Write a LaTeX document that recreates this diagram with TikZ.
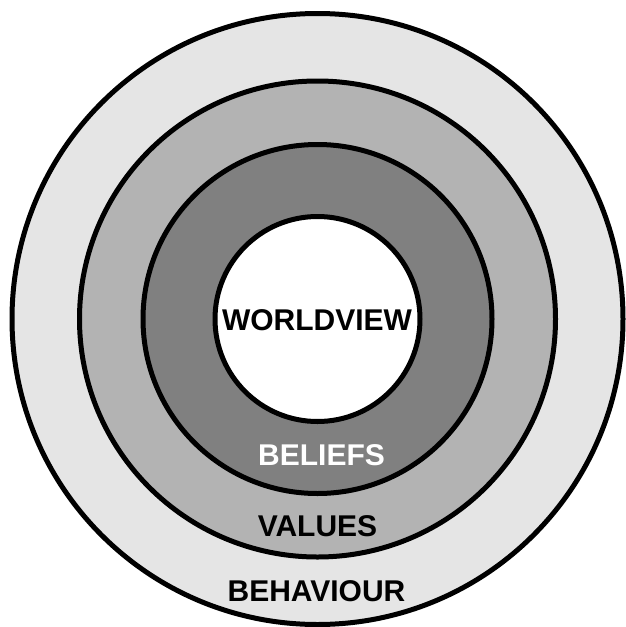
\documentclass[tikz,border=0pt]{standalone}
\usepackage{fontspec}
\setmainfont{Liberation Sans}
\definecolor{ringA}{HTML}{E5E5E5}
\definecolor{ringB}{HTML}{B3B3B3}
\definecolor{ringC}{HTML}{808080}
\begin{document}
\begin{tikzpicture}[x=1pt,y=-1pt,
  ring/.style={circle,draw=black,line width=5pt,inner sep=0pt},
  label/.style={inner sep=0pt,font=\fontsize{30}{30}\selectfont\bfseries}]
\useasboundingbox (0,0) rectangle (625,627);
\coordinate (c) at (317.5,319);
\node[ring,fill=ringA,minimum size=611pt] (behaviourring) at (c) {};
\node[ring,fill=ringB,minimum size=476pt] (valuesring) at (c) {};
\node[ring,fill=ringC,minimum size=349pt] (beliefsring) at (c) {};
\node[ring,fill=white,minimum size=205pt] (worldviewring) at (c) {};
\node[label,text=black] (worldview) at (317,320) {WORLDVIEW};
\node[label,text=white] (beliefs) at (321.5,455) {BELIEFS};
\node[label,text=black] (values) at (317.5,526) {VALUES};
\node[label,text=black] (behaviour) at (316.5,591) {BEHAVIOUR};
\end{tikzpicture}
\end{document}
